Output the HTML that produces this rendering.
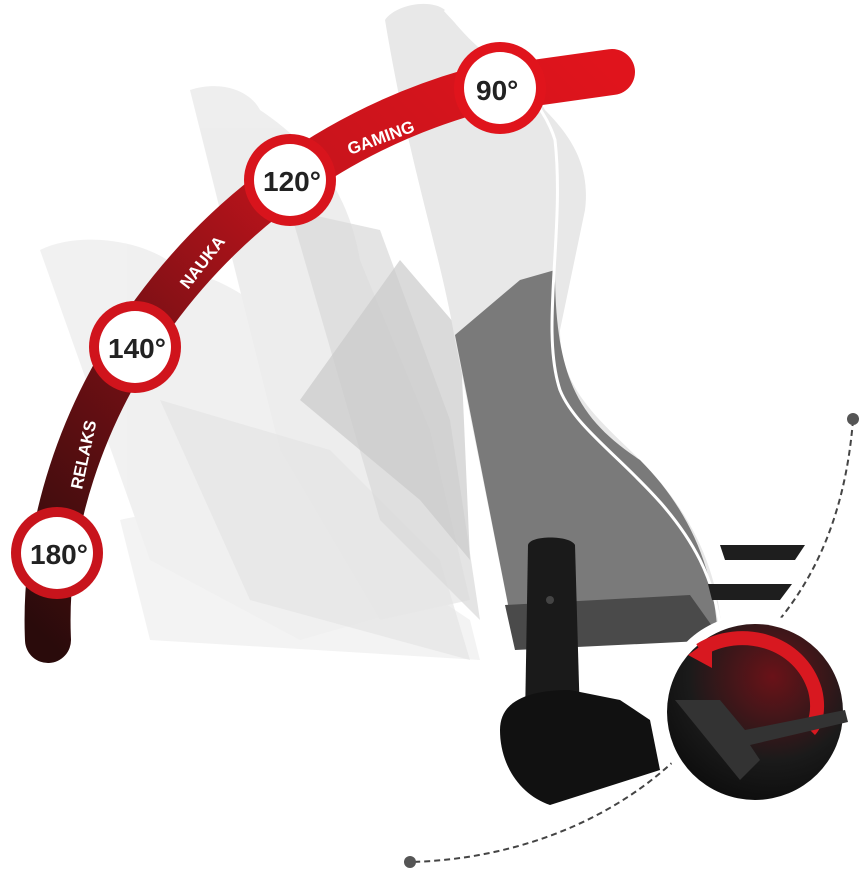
<!DOCTYPE html>
<html><head><meta charset="utf-8"><style>
html,body{margin:0;padding:0;background:#fff;}
svg{display:block}
text{font-family:"Liberation Sans",sans-serif;font-weight:bold}
</style></head><body>
<svg width="861" height="870" viewBox="0 0 861 870" xmlns="http://www.w3.org/2000/svg">
<defs>
<linearGradient id="band" x1="0" y1="1" x2="1" y2="0">
<stop offset="0" stop-color="#2a0b0b"/>
<stop offset="0.35" stop-color="#7a1015"/>
<stop offset="0.65" stop-color="#c8141c"/>
<stop offset="1" stop-color="#e0141c"/>
</linearGradient>
<radialGradient id="ins" cx="0.6" cy="0.3" r="0.8">
<stop offset="0" stop-color="#6a1218"/><stop offset="0.6" stop-color="#1a1a1a"/><stop offset="1" stop-color="#0a0a0a"/>
</radialGradient>
</defs>
<g opacity="0.9">
<path d="M120,520 C200,500 300,520 380,560 L470,620 L480,660 L150,640 Z" fill="#f2f2f2"/>
<path d="M40,250 C80,230 150,240 180,270 C240,280 300,330 330,400 L420,520 L440,600 L300,640 L150,560 Z" fill="#efefef"/>
<path d="M190,90 C220,80 250,90 260,110 C320,150 350,200 360,260 L430,430 L470,600 L380,620 L280,450 Z" fill="#ececec"/>
<path d="M160,400 L330,450 L440,560 L470,660 L250,600 Z" fill="#e2e2e2" opacity="0.7"/>
<path d="M290,210 L380,230 L450,420 L480,620 L380,520 Z" fill="#d6d6d6" opacity="0.7"/>
<path d="M300,400 L400,260 L460,330 L470,560 L420,500 Z" fill="#c4c4c4" opacity="0.7"/>
</g>
<path d="M385,20 C395,5 430,-2 445,10 C480,60 530,80 545,110 C575,140 590,170 585,210 L560,330 C560,390 600,420 640,460 C690,510 720,570 722,640 L515,640 L455,340 C440,250 410,170 385,20 Z" fill="#e8e8e8"/>
<path d="M455,335 L520,280 L555,270 C555,380 580,420 640,460 C690,510 715,570 718,640 L515,640 Z" fill="#7a7a7a"/>
<path d="M445,10 C490,60 540,90 555,140 C565,230 540,330 560,390 C580,440 660,480 700,560 C715,590 720,620 722,640" fill="none" stroke="#fff" stroke-width="3"/>
<path d="M505,605 L690,595 L722,640 L515,650 Z" fill="#4a4a4a"/>
<path d="M720,545 L805,545 L795,560 L725,560 Z" fill="#1e1e1e"/>
<path d="M708,584 L792,584 L780,600 L712,600 Z" fill="#1e1e1e"/>
<path d="M528,545 C530,535 570,535 575,545 L580,720 L525,720 Z" fill="#1a1a1a"/>
<path d="M500,730 C500,700 530,690 570,690 L620,700 L650,720 L660,770 L550,805 C520,795 500,765 500,730 Z" fill="#111"/>
<circle cx="550" cy="600" r="4" fill="#444"/>
<path d="M853,420 C845,520 810,600 740,660 M675,760 C600,830 500,860 410,862" fill="none" stroke="#444" stroke-width="2" stroke-dasharray="6,4"/>
<circle cx="853" cy="419" r="6" fill="#555"/>
<circle cx="410" cy="862" r="6" fill="#555"/>
<circle cx="755" cy="712" r="98" fill="#fff"/>
<circle cx="755" cy="712" r="88" fill="url(#ins)"/>
<path d="M700,650 C740,625 800,640 815,690 C820,710 815,725 810,730" fill="none" stroke="#d81820" stroke-width="14"/>
<path d="M688,655 L712,638 L712,668 Z" fill="#d81820"/>
<path d="M675,700 L720,700 L745,730 L845,710 L848,722 L750,745 L760,760 L740,780 Z" fill="#333"/>
<path d="M48,640 C38,420 200,170 470,92 L612,72" fill="none" stroke="url(#band)" stroke-width="46" stroke-linecap="round"/>
<text transform="translate(82,490) rotate(-78)" fill="#fff" font-size="17">RELAKS</text>
<text transform="translate(188,290) rotate(-52)" fill="#fff" font-size="17">NAUKA</text>
<text transform="translate(350,155) rotate(-20)" fill="#fff" font-size="17">GAMING</text>
<g>
<circle cx="57" cy="553" r="46" fill="#c8141c"/><circle cx="57" cy="553" r="36" fill="#fff"/>
<text x="30" y="564" font-size="28" fill="#222">180°</text>
<circle cx="135" cy="347" r="46" fill="#d0141c"/><circle cx="135" cy="347" r="36" fill="#fff"/>
<text x="108" y="358" font-size="28" fill="#222">140°</text>
<circle cx="290" cy="180" r="46" fill="#d8141c"/><circle cx="290" cy="180" r="36" fill="#fff"/>
<text x="263" y="191" font-size="28" fill="#222">120°</text>
<circle cx="500" cy="88" r="46" fill="#e0141c"/><circle cx="500" cy="88" r="36" fill="#fff"/>
<text x="476" y="100" font-size="28" fill="#222">90°</text>
</g>
</svg>
</body></html>
